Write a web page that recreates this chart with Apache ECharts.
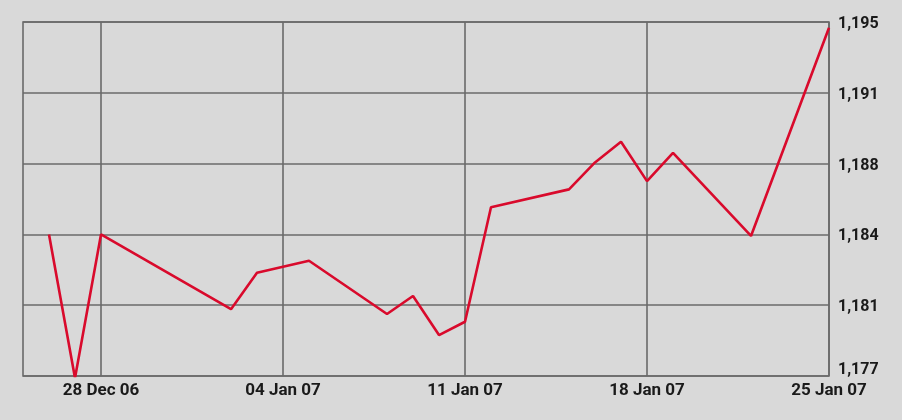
<!DOCTYPE html>
<html>
<head>
<meta charset="utf-8">
<script src="https://cdn.jsdelivr.net/npm/echarts@6/dist/echarts.min.js"></script>
<style>
html,body{margin:0;padding:0;background:#d9d9d9;}
#chart{width:902px;height:420px;}
</style>
</head>
<body>
<div id="chart"></div>
<script>
// Data
const dates = ['2006-12-26','2006-12-27','2006-12-28','2007-01-02','2007-01-03','2007-01-05',
  '2007-01-08','2007-01-09','2007-01-10','2007-01-11','2007-01-12','2007-01-15','2007-01-16',
  '2007-01-17','2007-01-18','2007-01-19','2007-01-22','2007-01-25'];
const values = [1184.2,1176.9,1184.2,1180.4,1182.25,1182.86,1180.15,1181.07,1179.08,1179.76,
  1185.58,1186.49,1187.86,1188.91,1186.91,1188.35,1184.12,1194.71];
const xTickDates = ['2006-12-28','2007-01-04','2007-01-11','2007-01-18','2007-01-25'];
const xTickLabels = ['28 Dec 06','04 Jan 07','11 Jan 07','18 Jan 07','25 Jan 07'];
const yTickLabels = ['1,177','1,181','1,184','1,188','1,191','1,195'];
const xStart = '2006-12-25', xEnd = '2007-01-25';
const yMin = 1177, yMax = 1195;

function dayNum(s){ const p = s.split('-').map(Number); return Math.round((Date.UTC(p[0],p[1]-1,p[2]) - Date.UTC(2006,11,25))/86400000); }
const xTickVals = xTickDates.map(dayNum);
const seriesData = dates.map((d,i)=>[dayNum(d), values[i]]);
const yInterval = (yMax - yMin)/(yTickLabels.length-1);

const font = "Roboto,'DejaVu Sans Condensed',sans-serif";
const chart = echarts.init(document.getElementById('chart'));
chart.setOption({
  backgroundColor:'#d9d9d9',
  animation:false,
  grid:{left:23,right:73,top:22,bottom:44,show:true,borderColor:'#6a6a6a',borderWidth:1.6,backgroundColor:'transparent'},
  xAxis:{
    type:'value', min:dayNum(xStart), max:dayNum(xEnd),
    axisLine:{show:false},
    axisTick:{show:false, customValues:xTickVals},
    splitLine:{show:true, lineStyle:{color:'#6a6a6a',width:1.6}},
    axisLabel:{customValues:xTickVals, margin:6, color:'#1a1a1a', fontFamily:font, fontWeight:'bold', fontSize:17,
      formatter:function(v){ const i = xTickVals.indexOf(Math.round(v)); return i>=0 ? xTickLabels[i] : ''; }}
  },
  yAxis:{
    type:'value', position:'right', min:yMin, max:yMax, interval:yInterval,
    axisLine:{show:false}, axisTick:{show:false},
    splitLine:{show:true, lineStyle:{color:'#6a6a6a',width:1.6}},
    axisLabel:{margin:9, color:'#1a1a1a', fontFamily:font, fontWeight:'bold', fontSize:16,
      formatter:function(v){ const i = Math.round((v - yMin)/yInterval); const t = yTickLabels[i] || ''; return i===0 ? '{b|'+t+'}' : '{n|'+t+'}'; },
      rich:{
        b:{fontFamily:font, fontWeight:'bold', fontSize:16, color:'#1a1a1a', padding:[0,0,12,0]},
        n:{fontFamily:font, fontWeight:'bold', fontSize:16, color:'#1a1a1a', padding:[4,0,0,0]}
      }}
  },
  series:[{
    type:'line', data:seriesData, symbol:'none',
    lineStyle:{color:'#d90a2c', width:2.6}
  }]
});
</script>
</body>
</html>
